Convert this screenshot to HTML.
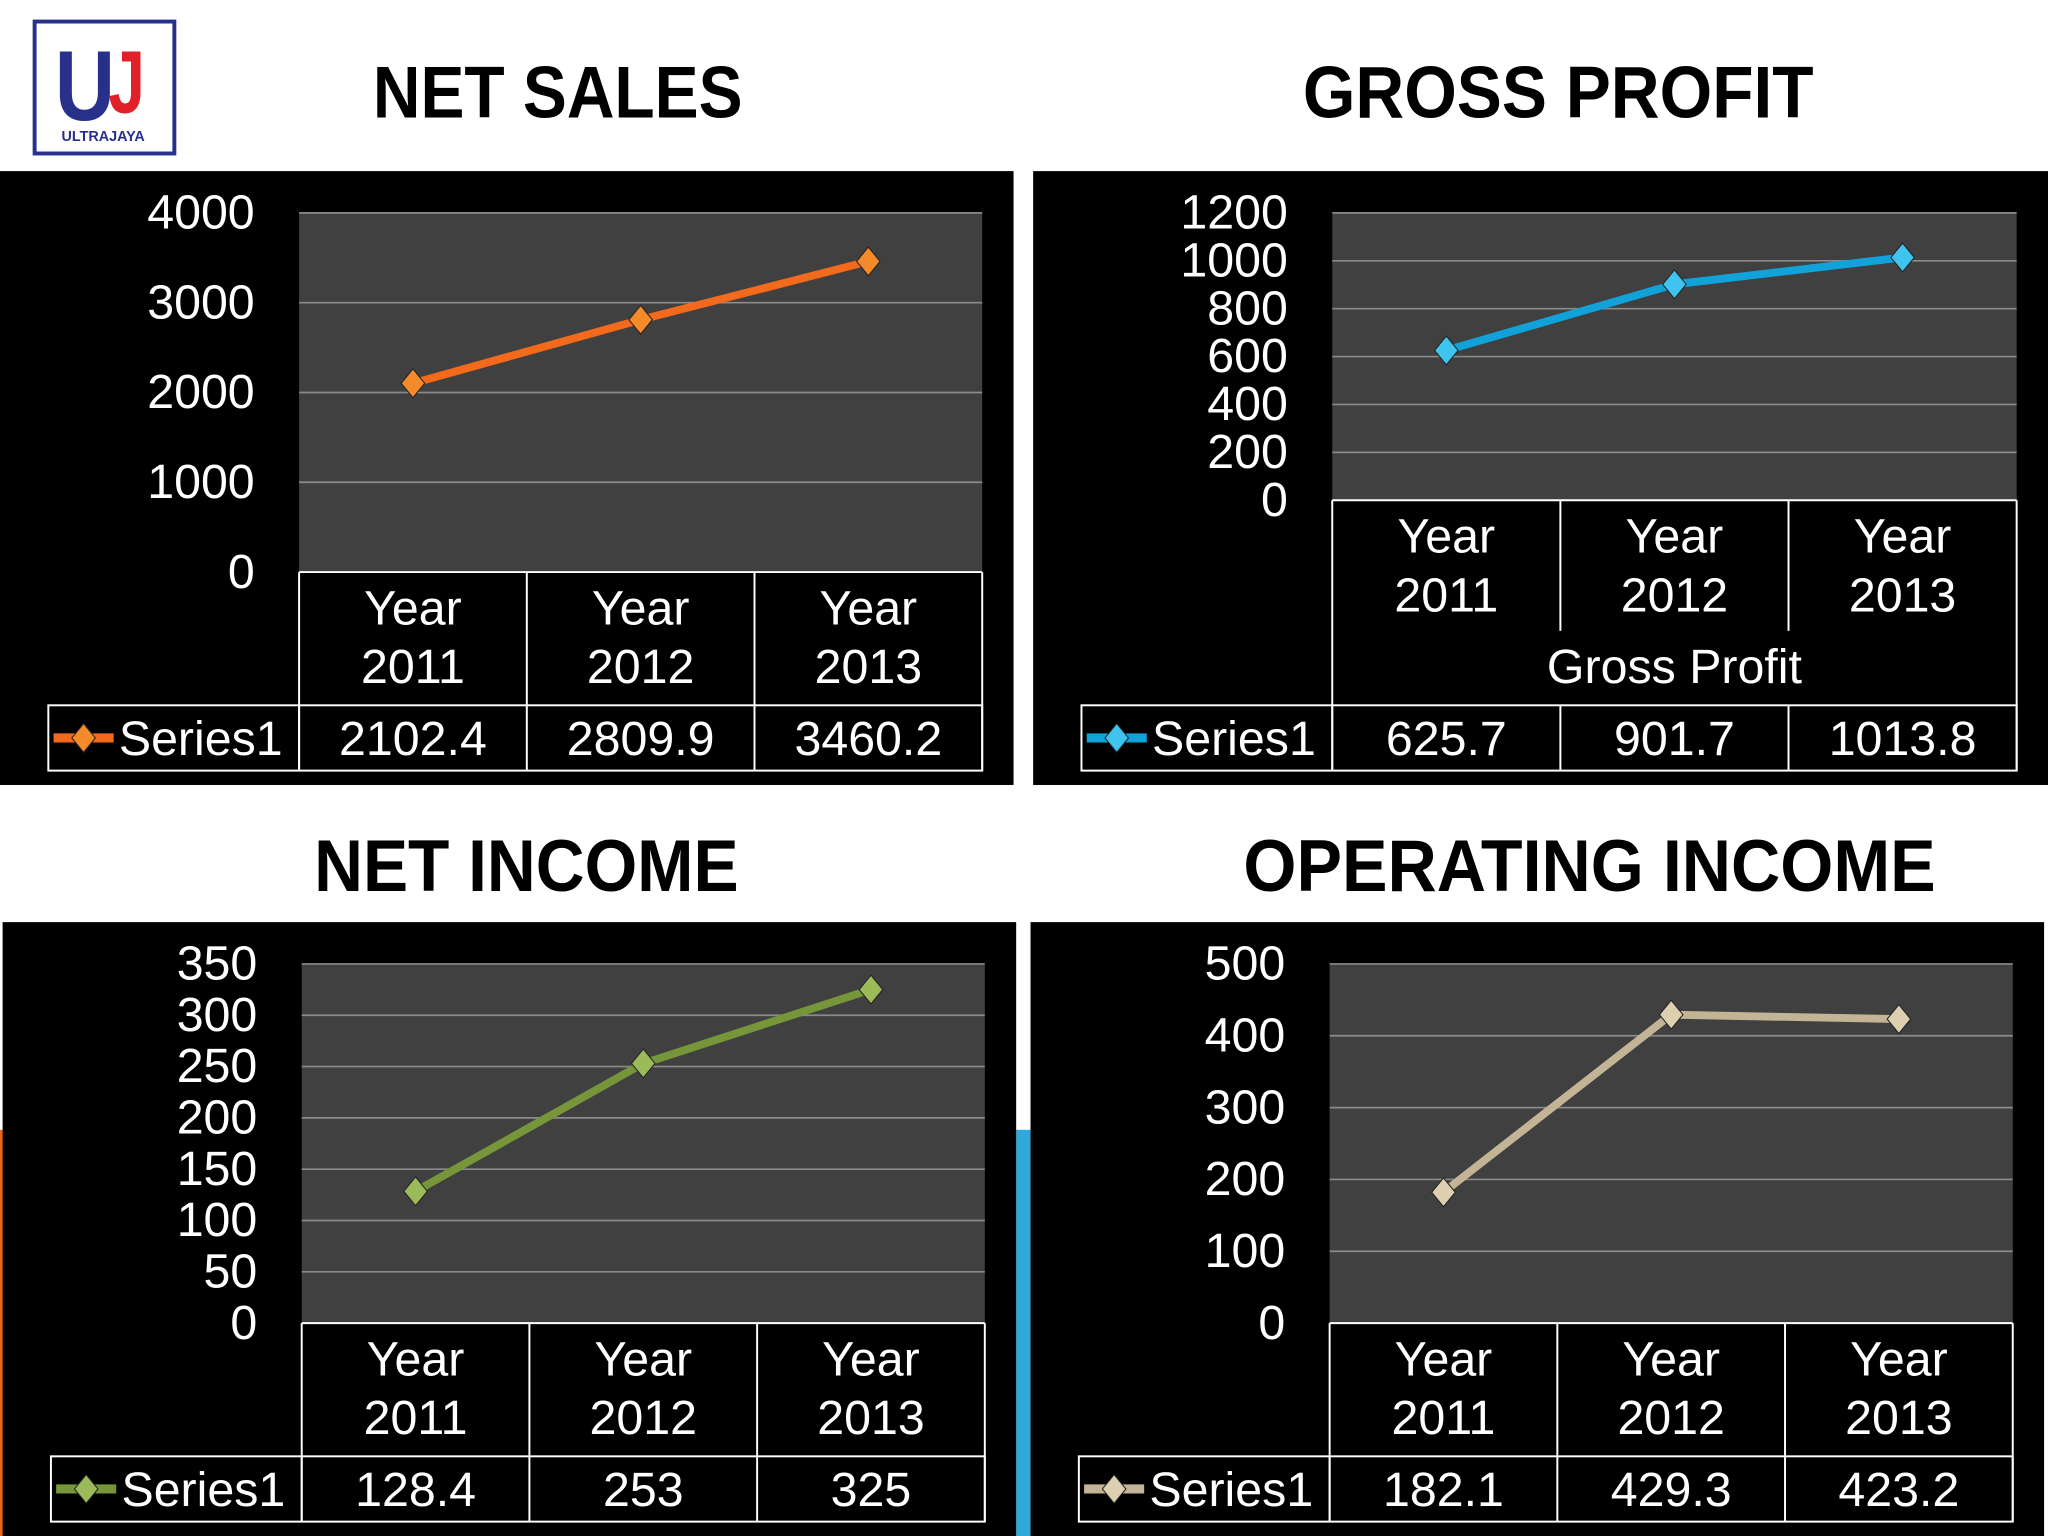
<!DOCTYPE html>
<html><head><meta charset="utf-8">
<style>
html,body{margin:0;padding:0;background:#fff;}
svg{display:block;}
text{font-family:"Liberation Sans Narrow","Liberation Sans",sans-serif;}
</style></head>
<body>
<svg id="root" width="2048" height="1536" viewBox="0 0 1568 1176" xmlns="http://www.w3.org/2000/svg">
  <rect x="0" y="0" width="1568" height="1176" fill="#fff"/>
  <rect x="0" y="865" width="3" height="311" fill="#e8641b"/>
  <rect x="778" y="865" width="11" height="311" fill="#2fa9d8"/>
  <g>
    <rect x="26.5" y="16.5" width="107" height="101" fill="#fff" stroke="#27308a" stroke-width="3"/>
    <text x="65" y="92" font-size="76" font-weight="bold" fill="#27308a" text-anchor="middle" style="font-family:'Liberation Sans',sans-serif" textLength="46" lengthAdjust="spacingAndGlyphs">U</text>
    <text x="97" y="86" font-size="68" font-weight="bold" fill="#e2202a" text-anchor="middle" style="font-family:'Liberation Sans',sans-serif" textLength="28" lengthAdjust="spacingAndGlyphs">J</text>
    <text x="79" y="108" font-size="11" font-weight="bold" fill="#27308a" text-anchor="middle" style="font-family:'Liberation Sans',sans-serif">ULTRAJAYA</text>
  </g>
  <g id="charts"></g>
</svg>
<script>
const categories = ["Year 2011","Year 2012","Year 2013"];
const netSalesValues = [2102.4, 2809.9, 3460.2];
const netSalesTicks = [0,1000,2000,3000,4000];
const grossProfitValues = [625.7, 901.7, 1013.8];
const grossProfitTicks = [0,200,400,600,800,1000,1200];
const netIncomeValues = [128.4, 253, 325];
const netIncomeTicks = [0,50,100,150,200,250,300,350];
const opIncomeValues = [182.1, 429.3, 423.2];
const opIncomeTicks = [0,100,200,300,400,500];
const seriesName = "Series1";

const NS = "http://www.w3.org/2000/svg";
const root = document.getElementById('charts');
function mk(tag, attrs, parent){
  const e = document.createElementNS(NS, tag);
  for (const k in attrs) e.setAttribute(k, attrs[k]);
  (parent||root).appendChild(e);
  return e;
}
function txt(str, attrs, parent){ const t = mk('text', attrs, parent); t.textContent = str; return t; }

function chart(cfg){
  const g = mk('g', {});
  
  
  const title = txt(cfg.title, {x:cfg.titleX, y:cfg.titleY, 'font-size':56, 'font-weight':'bold', fill:'#000', 'text-anchor':'middle', textLength:cfg.titleW, lengthAdjust:'spacingAndGlyphs'}, g);
  
  
  mk('rect', {x:cfg.bx, y:cfg.by, width:cfg.bw, height:cfg.bh, fill:'#000'}, g);
  const px0 = cfg.px0, px1 = cfg.px1, py0 = cfg.py0, py1 = cfg.py1;
  const plot = mk('rect', {x:px0, y:py0, width:px1-px0, height:py1-py0, fill:'#404040'}, g);
  
  
  const tMax = cfg.ticks[cfg.ticks.length-1], tMin = cfg.ticks[0];
  const yS = v => py1 - (v - tMin) / (tMax - tMin) * (py1 - py0);
  const colW = (px1 - px0) / categories.length;
  const xS = i => px0 + colW * (i + 0.5);
  cfg.ticks.forEach(t => {
    const y = yS(t);
    if (t !== tMin) {
      const gl = mk('line', {x1:px0, x2:px1, y1:y, y2:y, stroke:'#8a8a8a', 'stroke-width':1.3}, g);
      
      
    }
    const lb = txt(String(t), {x:px0-34, y:y+12, 'font-size':cfg.tickFont, fill:'#fff', 'text-anchor':'end'}, g);
    
    
  });
  const pts = cfg.values.map((v,i) => xS(i) + ',' + yS(v)).join(' ');
  const ln = mk('polyline', {points:pts, fill:'none', stroke:cfg.color, 'stroke-width':6, 'stroke-linejoin':'round'}, g);
  
  
  cfg.values.forEach((v,i) => {
    const x = xS(i), y = yS(v);
    const d = mk('polygon', {points:`${x},${y-11} ${x+9},${y} ${x},${y+11} ${x-9},${y}`, fill:cfg.marker, stroke:'#222', 'stroke-width':0.8}, g);
    
    
  });
  const hTop = py1, dTop = cfg.dataTop, dBot = cfg.dataTop + 50;
  const W = '#fff';
  mk('line', {x1:px0, x2:px1, y1:hTop, y2:hTop, stroke:W, 'stroke-width':1.5}, g);
  mk('line', {x1:px0, x2:px0, y1:hTop, y2:dBot, stroke:W, 'stroke-width':1.5}, g);
  mk('line', {x1:px1, x2:px1, y1:hTop, y2:dBot, stroke:W, 'stroke-width':1.5}, g);
  const colLineBot = cfg.subLabel ? hTop + 100 : dBot;
  for (let i=1;i<categories.length;i++){
    mk('line', {x1:px0+colW*i, x2:px0+colW*i, y1:hTop, y2:colLineBot, stroke:W, 'stroke-width':1.5}, g);
    if (cfg.subLabel) mk('line', {x1:px0+colW*i, x2:px0+colW*i, y1:dTop, y2:dBot, stroke:W, 'stroke-width':1.5}, g);
  }
  mk('rect', {x:cfg.legX, y:dTop, width:px1-cfg.legX, height:50, fill:'none', stroke:W, 'stroke-width':1.5}, g);
  mk('line', {x1:px0, x2:px0, y1:dTop, y2:dBot, stroke:W, 'stroke-width':1.5}, g);
  categories.forEach((c,i) => {
    const parts = c.split(' ');
    const t1 = txt(parts[0], {x:xS(i), y:hTop+40, 'font-size':37, fill:'#fff', 'text-anchor':'middle'}, g);
    
    
    const t2 = txt(parts[1], {x:xS(i), y:hTop+85, 'font-size':37, fill:'#fff', 'text-anchor':'middle'}, g);
    
    
    const dv = txt(String(cfg.values[i]), {x:xS(i), y:dTop+38, 'font-size':37, fill:'#fff', 'text-anchor':'middle'}, g);
    
    
  });
  if (cfg.subLabel){
    const s = txt(cfg.subLabel, {x:(px0+px1)/2, y:hTop+140, 'font-size':37, fill:'#fff', 'text-anchor':'middle'}, g);
    
    
  }
  const lk = mk('g', {}, g);
  
  
  const ly = dTop + 25, lx = cfg.legX + 4;
  mk('line', {x1:lx, x2:lx+46, y1:ly, y2:ly, stroke:cfg.color, 'stroke-width':7}, lk);
  mk('polygon', {points:`${lx+23},${ly-11} ${lx+32},${ly} ${lx+23},${ly+11} ${lx+14},${ly}`, fill:cfg.marker, stroke:'#222', 'stroke-width':0.8}, lk);
  txt(seriesName, {x:lx+50, y:dTop+38, 'font-size':37, fill:'#fff'}, lk);
}

chart({name:'net-sales-chart', title:'NET SALES', titleX:427, titleY:90, titleW:283, bx:0, by:131, bw:776, bh:470,
  px0:229, px1:752, py0:163, py1:438, dataTop:540, legX:37,
  values:netSalesValues, ticks:netSalesTicks, tickFont:37, color:'#f46a1c', marker:'#f58a2a'});
chart({name:'gross-profit-chart', title:'GROSS PROFIT', titleX:1193, titleY:90, titleW:391, bx:791, by:131, bw:777, bh:470,
  px0:1020, px1:1544, py0:163, py1:383, dataTop:540, legX:828, subLabel:'Gross Profit',
  values:grossProfitValues, ticks:grossProfitTicks, tickFont:37, color:'#10a2d8', marker:'#3ec4ee'});
chart({name:'net-income-chart', title:'NET INCOME', titleX:403, titleY:682, titleW:325, bx:2, by:706, bw:776, bh:470,
  px0:231, px1:754, py0:738, py1:1013, dataTop:1115, legX:39,
  values:netIncomeValues, ticks:netIncomeTicks, tickFont:37, color:'#77963a', marker:'#9bbb59'});
chart({name:'operating-income-chart', title:'OPERATING INCOME', titleX:1217, titleY:682, titleW:530, bx:789, by:706, bw:776, bh:470,
  px0:1018, px1:1541, py0:738, py1:1013, dataTop:1115, legX:826,
  values:opIncomeValues, ticks:opIncomeTicks, tickFont:37, color:'#c4b496', marker:'#ddd0b0'});
</script>
</body></html>
